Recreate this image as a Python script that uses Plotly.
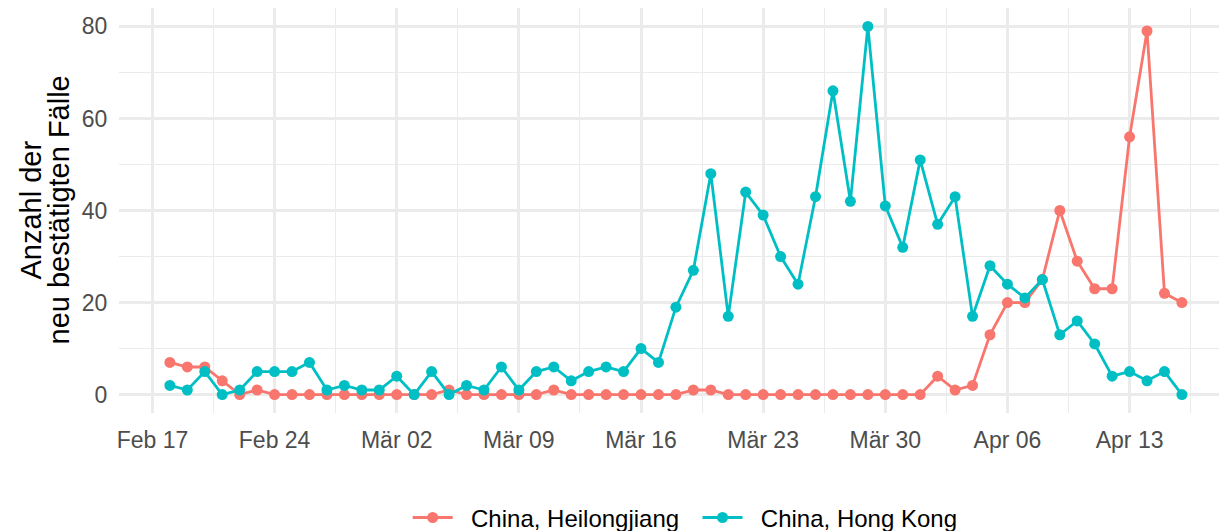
import pandas as pd
import plotly.graph_objects as go

dates = pd.date_range("2020-02-18", "2020-04-16", freq="D")

heilongjiang = [7, 6, 6, 3, 0, 1, 0, 0, 0, 0, 0, 0,
                0, 0, 0, 0, 1, 0, 0, 0, 0, 0, 1, 0, 0, 0, 0, 0, 0, 0, 1, 1,
                0, 0, 0, 0, 0, 0, 0, 0, 0, 0, 0,
                0, 4, 1, 2, 13, 20, 20, 25, 40, 29, 23, 23, 56, 79, 22, 20]

hong_kong = [2, 1, 5, 0, 1, 5, 5, 5, 7, 1, 2, 1,
             1, 4, 0, 5, 0, 2, 1, 6, 1, 5, 6, 3, 5, 6, 5, 10, 7, 19, 27, 48,
             17, 44, 39, 30, 24, 43, 66, 42, 80, 41, 32,
             51, 37, 43, 17, 28, 24, 21, 25, 13, 16, 11, 4, 5, 3, 5, 0]

series_names = ["China, Heilongjiang", "China, Hong Kong"]
series_colors = ["#F8766D", "#00BFC4"]

x_tickvals = ["2020-02-17", "2020-02-24", "2020-03-02", "2020-03-09", "2020-03-16",
              "2020-03-23", "2020-03-30", "2020-04-06", "2020-04-13"]
x_ticktext = ["Feb 17", "Feb 24", "Mär 02", "Mär 09", "Mär 16",
              "Mär 23", "Mär 30", "Apr 06", "Apr 13"]
y_tickvals = [0, 20, 40, 60, 80]

FONT = "Liberation Sans"
GRID = "#EBEBEB"
NBSP = "\u00a0"

# page body has an 8px default margin; figure is sized to end at the window edge
FIG_W, FIG_H = 1219, 523
M_L, M_R, M_T, M_B = 111, 0, 0, 118
PLOT_W = FIG_W - M_L - M_R

fig = go.Figure()
n = len(series_names)
for i, (name, vals, col) in enumerate(zip(series_names, [heilongjiang, hong_kong], series_colors)):
    label = NBSP * 2 + name + (NBSP * 2 if i < n - 1 else "")
    fig.add_trace(go.Scatter(
        x=dates, y=vals, name=label, mode="lines+markers",
        line=dict(color=col, width=2.8),
        marker=dict(color=col, size=11),
    ))

fig.update_layout(
    width=FIG_W, height=FIG_H,
    margin=dict(l=M_L, r=M_R, t=M_T, b=M_B, autoexpand=False),
    paper_bgcolor="white", plot_bgcolor="white",
    font=dict(family=FONT, size=23, color="black"),
    showlegend=True,
    legend=dict(orientation="h", x=0.511, xanchor="center", y=-0.259, yanchor="middle",
                font=dict(family=FONT, size=24, color="black"),
                bgcolor="rgba(0,0,0,0)", itemwidth=40, tracegroupgap=0),
    xaxis=dict(
        range=["2020-02-15 02:00", "2020-04-18 14:00"],
        tickmode="array", tickvals=x_tickvals, ticktext=x_ticktext,
        tickfont=dict(family=FONT, size=23, color="#4D4D4D"),
        ticks="outside", ticklen=6, tickcolor="rgba(0,0,0,0)",
        showgrid=True, gridcolor=GRID, gridwidth=2.5,
        zeroline=False, showline=False,
        minor=dict(tick0="2020-02-20 12:00", dtick=302400000, showgrid=True,
                   gridcolor=GRID, gridwidth=1.3),
    ),
    yaxis=dict(
        range=[-4, 84],
        tickmode="array", tickvals=y_tickvals,
        tickfont=dict(family=FONT, size=23, color="#4D4D4D"),
        ticks="outside", ticklen=6, tickcolor="rgba(0,0,0,0)",
        showgrid=True, gridcolor=GRID, gridwidth=2.5,
        zeroline=False, showline=False,
        minor=dict(tick0=0, dtick=10, showgrid=True, gridcolor=GRID, gridwidth=1.3),
    ),
    annotations=[
        dict(text="Anzahl der", xref="paper", yref="paper", x=(22 - M_L) / PLOT_W, y=0.5,
             xanchor="center", yanchor="middle", textangle=-90, showarrow=False,
             font=dict(family=FONT, size=29, color="black")),
        dict(text="neu bestätigten Fälle", xref="paper", yref="paper", x=(50 - M_L) / PLOT_W, y=0.5,
             xanchor="center", yanchor="middle", textangle=-90, showarrow=False,
             font=dict(family=FONT, size=29, color="black")),
    ],
)

fig.write_html("out.html")
